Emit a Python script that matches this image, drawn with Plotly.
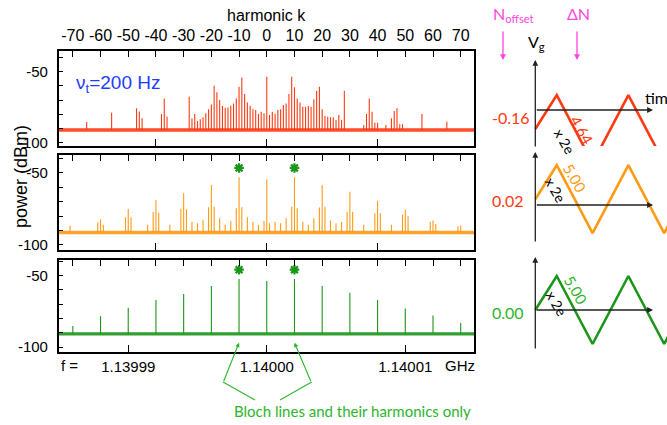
import plotly.graph_objects as go

W, H = 667, 425

# ---------------- data ----------------
k_ticks = list(range(-70, 71, 10))
k_tick_labels = [str(v) for v in k_ticks]
freq_ticks_ghz = [1.13999, 1.14000, 1.14001]
freq_tick_labels = ["1.13999", "1.14000", "1.14001"]
f_center_ghz = 1.14000
nu_t_hz = 200.0
inner_bottom_ticks_k = [-40, 0, 40]
db_ticks = [-100, -90, -80, -70, -60, -50, -40]
db_tick_labels = ["-100", "", "", "", "", "-50", ""]

red_k = [-65, -56, -47, -46, -45, -38, -37, -36, -28, -27, -26, -25, -24, -23, -22, -21,
         -20, -19, -18, -17, -16, -15, -14, -13, -12, -11, -10, -9, -8, -7, -6, -5, -4,
         -3, -2, -1, 0, 1, 2, 3, 4, 5, 6, 7, 8, 9, 10, 11, 12, 13, 14, 15, 16, 17, 18,
         19, 20, 21, 22, 23, 24, 25, 26, 27, 28, 35, 36, 37, 38, 39, 40, 43, 45, 46, 47,
         48, 49, 56, 65]
red_db = [-85.4, -78.8, -75.8, -78.0, -82.8, -79.8, -68.8, -81.5, -67.6, -83.0, -79.8,
          -84.7, -83.5, -82.1, -79.3, -76.5, -73.0, -59.9, -64.5, -69.9, -74.2, -75.3,
          -75.1, -73.9, -72.3, -68.8, -60.5, -54.0, -65.7, -71.6, -73.9, -76.5, -77.0,
          -79.8, -78.2, -79.3, -53.5, -80.5, -78.2, -79.8, -77.0, -76.5, -73.5, -72.3,
          -65.7, -53.5, -61.0, -68.8, -71.6, -74.6, -74.6, -74.2, -74.6, -69.4, -63.6,
          -60.5, -76.5, -81.2, -81.7, -82.0, -82.0, -84.0, -80.5, -84.0, -63.4, -87.5,
          -79.8, -68.8, -78.2, -86.0, -86.0, -87.5, -82.8, -77.7, -75.8, -87.0, -87.0,
          -79.8, -85.2]

orange_k = [-71, -61, -60, -59, -51, -50, -49, -43, -41, -40, -39, -35, -31, -30, -29,
            -27, -25, -23, -21, -20, -19, -17, -15, -13, -11, -10, -9, -7, -5, -3, -1,
            0, 1, 3, 5, 7, 9, 10, 11, 13, 15, 17, 19, 20, 21, 23, 25, 27, 29, 30, 31,
            35, 39, 40, 41, 45, 49, 50, 51, 59, 60, 61, 69, 70]
orange_db = [-86.6, -84.3, -82.3, -86.0, -80.8, -75.0, -80.8, -86.0, -76.9, -68.8, -77.6,
             -86.0, -75.0, -64.1, -75.2, -83.8, -85.0, -82.6, -73.8, -58.3, -73.4, -81.5,
             -86.0, -83.3, -74.5, -53.0, -73.8, -80.8, -83.8, -86.0, -83.3, -54.4, -85.0,
             -83.8, -85.0, -81.5, -73.4, -53.0, -74.5, -83.8, -86.0, -81.5, -74.0, -58.5,
             -73.4, -83.0, -85.0, -84.0, -77.0, -63.0, -77.0, -86.0, -78.0, -69.2, -78.0,
             -86.0, -79.0, -75.5, -80.0, -83.8, -83.0, -85.5, -87.0, -86.5]

green_k = [-70, -60, -50, -40, -30, -20, -10, 0, 10, 20, 30, 40, 50, 60, 70]
green_db = [-85.2, -78.4, -72.5, -67.1, -62.9, -57.3, -52.3, -53.8, -52.3, -57.3, -62.0,
            -67.1, -73.0, -77.9, -83.1]

noise_floor_db = [-91.0, -91.3, -90.8]
star_k = [-10, 10]

# schematic gate-voltage waveforms (arbitrary units)
wave_t = [0, 1.2, 3.2, 5.2, 7.2, 9.2]
wave_shape = [0, 1, -1, 1, -1, 1]
wave_offsets = [-0.56, 0.17, 0.0]
offset_labels = ["-0.16", "0.02", "0.00"]
delta_labels = ["4.64", "5.00", "5.00"]

# ---------------- style ----------------
RED = "#ff3a12"
ORANGE = "#ff9a14"
GREEN = "#1a961a"
LGREEN = "#2cb52c"
BLUE = "#1e3cff"
MAGENTA = "#ff45e0"
FONT = "Liberation Sans, Arial, sans-serif"
CFONT = "Lato, Open Sans, sans-serif"


def px(x):
    return x / W


def py(y):
    return 1 - y / H


fig = go.Figure()

panels = [
    dict(ks=red_k, dbs=red_db, color=RED, top=51, bot=146, rng=[-102.3, -35.4]),
    dict(ks=orange_k, dbs=orange_db, color=ORANGE, top=155, bot=250, rng=[-103.5, -37.5]),
    dict(ks=green_k, dbs=green_db, color=GREEN, top=260, bot=352, rng=[-103.5, -39.0]),
]
xdom = [px(58.7), px(474)]
krange = [-75.1, 74.8]
freq_k = [round((f - f_center_ghz) * 1e9 / nu_t_hz, 6) for f in freq_ticks_ghz]

layout = dict(width=W, height=H, margin=dict(l=0, r=0, t=0, b=0, pad=0, autoexpand=False),
              paper_bgcolor="white", plot_bgcolor="white", showlegend=False,
              font=dict(family=FONT, size=15, color="black"))

for i, p in enumerate(panels):
    n = i + 1
    floor = noise_floor_db[i]
    xs, ys = [], []
    for k, d in zip(p["ks"], p["dbs"]):
        xs += [k, k, None]
        ys += [floor, d, None]
    xb = "x" if n == 1 else f"x{n}"
    yb = "y" if n == 1 else f"y{n}"
    xt = f"x{n + 3}"
    fig.add_trace(go.Scatter(x=xs, y=ys, mode="lines", xaxis=xb, yaxis=yb,
                             line=dict(color=p["color"], width=1.1), hoverinfo="skip"))
    fig.add_trace(go.Scatter(x=[krange[0], krange[1]], y=[floor, floor], mode="lines",
                             xaxis=xt, yaxis=yb, opacity=0.9,
                             line=dict(color=p["color"], width=3.4), hoverinfo="skip"))
    if n >= 2:
        lut = dict(zip(p["ks"], p["dbs"]))
        fig.add_trace(go.Scatter(x=star_k, y=[lut[k] + 6.5 for k in star_k], mode="markers",
                                 xaxis=xb, yaxis=yb,
                                 marker=dict(symbol="asterisk", size=8,
                                             line=dict(color=GREEN, width=2.2)),
                                 hoverinfo="skip"))

    ydom = [py(p["bot"]), py(p["top"])]
    bottom = dict(domain=xdom, range=krange, anchor=yb, automargin=False,
                  showline=True, linecolor="black", linewidth=1.5, mirror=False,
                  ticks="inside", ticklen=7, tickwidth=1.3, tickcolor="black",
                  showgrid=False, zeroline=False)
    if n == 3:
        bottom.update(tickvals=freq_k, ticktext=freq_tick_labels, showticklabels=True,
                      tickfont=dict(size=15), ticklabelstandoff=0)
    else:
        bottom.update(tickvals=inner_bottom_ticks_k, showticklabels=False)
    top = dict(domain=xdom, range=krange, anchor=yb, overlaying=xb, side="top",
               automargin=False,
               showline=True, linecolor="black", linewidth=1.5,
               ticks="inside", ticklen=6, tickwidth=1.3, tickcolor="black",
               tickvals=k_ticks, ticktext=k_tick_labels,
               showticklabels=(n == 1), tickfont=dict(size=16), ticklabelstandoff=2,
               showgrid=False, zeroline=False)
    yax = dict(domain=ydom, range=p["rng"], anchor=xb, automargin=False,
               showline=True, linecolor="black", linewidth=1.5, mirror=True,
               ticks="inside", ticklen=5, tickwidth=1.3, tickcolor="black",
               tickvals=db_ticks, ticktext=db_tick_labels, tickfont=dict(size=15),
               ticklabelstandoff=6, showgrid=False, zeroline=False)
    layout["xaxis" if n == 1 else f"xaxis{n}"] = bottom
    layout[f"xaxis{n + 3}"] = top
    layout["yaxis" if n == 1 else f"yaxis{n}"] = yax

# ---------------- schematic waveforms ----------------
T_UNIT = 17.9   # px per time unit
V_UNIT = 34.0   # px per amplitude unit
t0_px = 535.3
sch = [
    dict(color=RED, y0=110, top=52, bot=172, vt=1.47, vb=-1.12, lab_col=RED, lab_y=118,
         dl=(582, 130), xe=(565, 141)),
    dict(color=ORANGE, y0=205, top=146, bot=248, vt=1.56, vb=-1.12, lab_col=RED, lab_y=201,
         dl=(575, 178), xe=(555, 190)),
    dict(color=GREEN, y0=310, top=250, bot=356, vt=1.56, vb=-1.18, lab_col=LGREEN, lab_y=312,
         dl=(576, 290), xe=(557, 303)),
]
xr = [-0.5, (W - t0_px) / T_UNIT]
sdom = [px(t0_px - 0.5 * T_UNIT), 1.0]
annotations = []
for j, s in enumerate(sch):
    xa = f"x{7 + j}"
    ya = f"y{4 + j}"
    fig.add_trace(go.Scatter(x=wave_t, y=[v + wave_offsets[j] for v in wave_shape],
                             mode="lines", xaxis=xa, yaxis=ya,
                             line=dict(color=s["color"], width=2.6), hoverinfo="skip"))
    layout[f"xaxis{7 + j}"] = dict(domain=sdom, range=xr, anchor=ya, visible=False,
                                   automargin=False)
    layout[f"yaxis{4 + j}"] = dict(domain=[py(s["bot"]), py(s["top"])],
                                   range=[(s["y0"] - s["bot"]) / V_UNIT, (s["y0"] - s["top"]) / V_UNIT],
                                   anchor=xa, visible=False, automargin=False)
    # vertical axis arrow
    annotations.append(dict(x=0, y=s["vt"], ax=0, ay=s["vb"], xref=xa, yref=ya, axref=xa, ayref=ya,
                            text="", showarrow=True, arrowhead=2, arrowsize=0.9, arrowwidth=1.3,
                            arrowcolor="#222"))
    # time axis arrow
    annotations.append(dict(x=(653 - t0_px) / T_UNIT, y=0, ax=0, ay=0, xref=xa, yref=ya,
                            axref=xa, ayref=ya, text="", showarrow=True, arrowhead=2,
                            arrowsize=0.9, arrowwidth=1.3, arrowcolor="#222"))
    annotations.append(dict(x=px(490), y=py(s["lab_y"]), xanchor="left", yanchor="middle",
                            text=offset_labels[j],
                            font=dict(family=CFONT, size=16, color=s["lab_col"])))
    annotations.append(dict(x=px(s["dl"][0]), y=py(s["dl"][1]), xanchor="center",
                            yanchor="middle", text=delta_labels[j], textangle=60,
                            font=dict(family=CFONT, size=15,
                                      color=s["color"] if j != 2 else LGREEN)))
    annotations.append(dict(x=px(s["xe"][0]), y=py(s["xe"][1]), xanchor="center",
                            yanchor="middle", text="x 2e", textangle=60,
                            font=dict(family=CFONT, size=14, color="black")))

# ---------------- text annotations ----------------
annotations += [
    dict(x=px(266.7), y=py(16), text="harmonic k", font=dict(size=16)),
    dict(x=px(59), y=py(365), text="f =", xanchor="left", font=dict(size=15)),
    dict(x=px(443), y=py(365), text="GHz", xanchor="left", font=dict(size=15)),
    dict(x=px(74), y=py(84), text="ν<sub>t</sub>=200 Hz", xanchor="left",
         font=dict(size=19, color=BLUE)),
    dict(x=px(21), y=py(177), text="power (dBm)", textangle=-90, font=dict(size=18)),
    dict(x=px(491), y=py(14), text="N<sub>offset</sub>", xanchor="left",
         font=dict(family=CFONT, size=16, color=MAGENTA)),
    dict(x=px(578), y=py(13), text="ΔN", font=dict(family=CFONT, size=16, color=MAGENTA)),
    dict(x=px(526), y=py(42), text="V<sub>g</sub>", xanchor="left",
         font=dict(family=CFONT, size=16, color="black")),
    dict(x=px(643), y=py(97), text="time", xanchor="left",
         font=dict(family=CFONT, size=16, color="black")),
    dict(x=px(232), y=py(411), text="Bloch lines and their harmonics only", xanchor="left",
         font=dict(family=CFONT, size=15, color=LGREEN)),
]
for a in annotations:
    a.setdefault("xref", "paper")
    a.setdefault("yref", "paper")
    a.setdefault("showarrow", False)
    a.setdefault("xanchor", "center")
    a.setdefault("yanchor", "middle")
    if "font" in a:
        a["font"].setdefault("family", FONT)
        a["font"].setdefault("color", "black")

# magenta pointer arrows
for xp in (503, 577):
    annotations.append(dict(x=px(xp), y=py(60), ax=0, ay=-30, xref="paper", yref="paper",
                            text="", showarrow=True, arrowhead=2, arrowsize=0.9,
                            arrowwidth=1.3, arrowcolor=MAGENTA))
# Bloch-line pointers (tips at the k = +-10 lines of the bottom panel)
for k, dx in zip(star_k, (-16, 17)):
    annotations.append(dict(x=k, y=-97, xref="x3", yref="y3", ax=dx, ay=40, text="",
                            showarrow=True, arrowhead=2, arrowsize=0.8, arrowwidth=1.1,
                            arrowcolor=LGREEN))

layout["annotations"] = annotations
layout["shapes"] = [
    dict(type="line", xref="paper", yref="paper", x0=px(223), y0=py(382), x1=px(255), y1=py(400),
         line=dict(color=LGREEN, width=1.1)),
    dict(type="line", xref="paper", yref="paper", x0=px(311.7), y0=py(382), x1=px(280), y1=py(400),
         line=dict(color=LGREEN, width=1.1)),
]

fig.update_layout(**layout)
fig.write_html("out.html", config={"displayModeBar": False},
               post_script="document.body.style.margin='0px';")
